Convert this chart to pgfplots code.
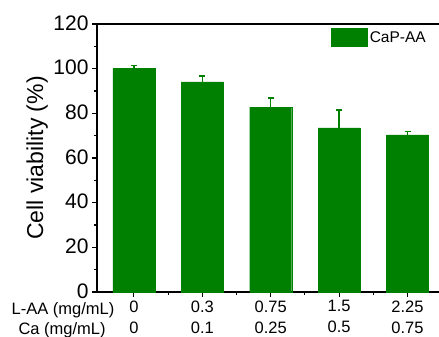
\documentclass[border=0pt]{standalone}
\usepackage{pgfplots}
\pgfplotsset{compat=1.18}
\usepackage{fontspec}
\setmainfont{Liberation Sans}
\definecolor{ogreen}{RGB}{0,128,0}
\begin{document}
\begin{tikzpicture}
\begin{axis}[
  scale only axis, width=342pt, height=268pt,
  xmin=-0.54, xmax=4.46, ymin=0, ymax=120,
  axis x line=box, axis y line*=left,
  xtick pos=bottom, ytick pos=left,
  tick align=outside, major tick length=5pt, minor tick length=3pt,
  minor x tick num=1, minor y tick num=1,
  xtick={0,1,2,3,4}, ytick={0,20,40,60,80,100,120},
  xticklabels={{0\\0},{0.3\\0.1},{0.75\\0.25},{1.5\\0.5},{2.25\\0.75}},
  xticklabel style={align=center, font=\fontsize{16.5}{21}\selectfont},
  yticklabel style={font=\fontsize{21}{24}\selectfont, yshift=1pt},
  /pgf/number format/assume math mode=true,
  axis line style={line width=1.1pt},
  every tick/.style={black, line width=1.1pt},
  ylabel={Cell viability (\%)},
  ylabel style={at={(axis description cs:-0.175,0.5)}, anchor=center, rotate=0, font=\fontsize{23}{26}\selectfont},
  ybar, bar width=42pt,
  legend style={draw=none, fill=none, at={(rel axis cs:0.683,0.984)}, anchor=north west, inner sep=0pt, font=\fontsize{15.5}{18}\selectfont},
  legend image code/.code={\draw[fill=ogreen, draw=ogreen] (0pt,-8.8pt) rectangle (36.6pt,8.8pt);},
  clip=false,
]
\addplot[ybar, fill=ogreen, draw=ogreen,
  error bars/.cd, y dir=plus, y explicit,
  error bar style={line width=1.4pt, ogreen},
  error mark options={rotate=90, mark size=3pt, line width=1.4pt, ogreen}]
  coordinates {(0,100) +- (0,1.3) (1,94.1) +- (0,2.6) (2,82.8) +- (0,4.1) (3,73.5) +- (0,8.0) (4,70.3) +- (0,1.6)};
\addlegendentry{CaP-AA}
\coordinate (bl) at (rel axis cs:0,0);
\coordinate (tr) at (rel axis cs:1,1);
\node[anchor=base, font=\fontsize{16.5}{20}\selectfont] at (axis description cs:-0.0994,-0.0858) {L-AA (mg/mL)};
\node[anchor=base, font=\fontsize{16.5}{20}\selectfont] at (axis description cs:-0.102,-0.1580) {Ca (mg/mL)};
\end{axis}
\pgfresetboundingbox
\path ([shift={(-97pt,-45pt)}]bl) rectangle ([shift={(0pt,24pt)}]tr);
\end{tikzpicture}
\end{document}
